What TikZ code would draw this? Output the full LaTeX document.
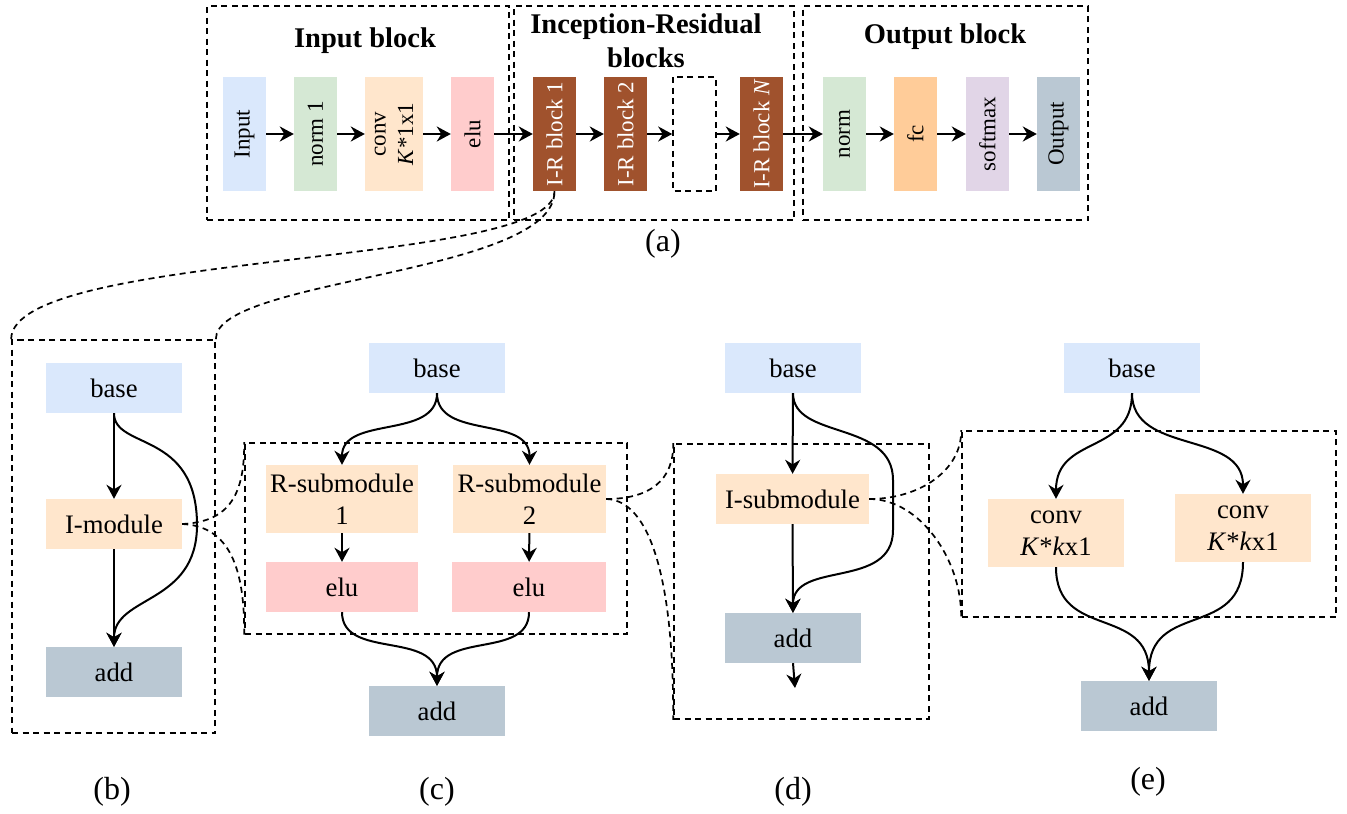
\documentclass[tikz,border=0pt]{standalone}
\usepackage{fontspec}
\setmainfont{Liberation Serif}
\usetikzlibrary{arrows.meta}

\definecolor{cblue}{HTML}{DAE8FC}
\definecolor{cgreen}{HTML}{D5E8D4}
\definecolor{corange}{HTML}{FFE6CC}
\definecolor{cpink}{HTML}{FFCCCC}
\definecolor{cbrown}{HTML}{A0522D}
\definecolor{cfc}{HTML}{FFCC99}
\definecolor{cviolet}{HTML}{E1D5E7}
\definecolor{cgray}{HTML}{BAC8D3}

\tikzset{
  box/.style={draw=none, inner sep=0pt, align=center, minimum width=136pt, minimum height=50pt,
              font=\fontsize{26.7}{32}\selectfont},
  vbox/.style={draw=none, rotate=90, inner sep=0pt, align=center, minimum width=114pt,
               minimum height=43pt, font=\fontsize{23}{27.5}\selectfont},
  grp/.style={draw, line width=1.7pt, dash pattern=on 6pt off 4.5pt, inner sep=0pt},
  flow/.style={-{Stealth[length=14pt,width=15pt,inset=4.5pt]}, line width=2pt},
  link/.style={line width=1.7pt, dash pattern=on 6pt off 4.5pt},
  title/.style={font=\bfseries\fontsize{28.5}{34.2}\selectfont, align=center},
  caption/.style={font=\fontsize{32}{38}\selectfont},
}

\begin{document}
\begin{tikzpicture}[x=1pt,y=-1pt]
\useasboundingbox (0,0) rectangle (1347,814);

% ---------- (a) overall network ----------
\node[grp, minimum width=302pt, minimum height=214pt] (gin)  at (358,113) {};
\node[grp, minimum width=280pt, minimum height=214pt] (gir)  at (654,113) {};
\node[grp, minimum width=285pt, minimum height=214pt] (gout) at (945.5,113) {};

\node[title, anchor=base] (tin)  at (365,47) {Input block};
\node[title]              (tir)  at (646,40.5) {Inception-Residual\\blocks};
\node[title, anchor=base] (tout) at (945,43) {Output block};

\node[vbox, fill=cblue]   (in)  at (244.5,134) {Input};
\node[vbox, fill=cgreen]  (n1)  at (315.5,134) {norm 1};
\node[vbox, fill=corange, minimum height=58pt] (cv) at (394,134) {conv\\\textit{K}*1x1};
\node[vbox, fill=cpink]   (el)  at (472.5,134) {elu};
\node[vbox, fill=cbrown, text=white] (ir1) at (554.5,134) {I-R block 1};
\node[vbox, fill=cbrown, text=white] (ir2) at (625.5,134) {I-R block 2};
\node[vbox, fill=white, draw, line width=1.6pt, dash pattern=on 6pt off 4.5pt] (irx) at (694.5,134) {};
\node[vbox, fill=cbrown, text=white] (irn) at (761.5,134) {I-R block \textit{N}};
\node[vbox, fill=cgreen]  (on)  at (844.5,134) {norm};
\node[vbox, fill=cfc]     (fc)  at (915.5,134) {fc};
\node[vbox, fill=cviolet] (sm)  at (987.5,134) {softmax};
\node[vbox, fill=cgray]   (out) at (1058.5,134) {Output};

\draw[flow] (in) -- (n1);
\draw[flow] (n1) -- (cv);
\draw[flow] (cv) -- (el);
\draw[flow] (el) -- (ir1);
\draw[flow] (ir1) -- (ir2);
\draw[flow] (ir2) -- (irx);
\draw[flow] (irx) -- (irn);
\draw[flow] (irn) -- (on);
\draw[flow] (on) -- (fc);
\draw[flow] (fc) -- (sm);
\draw[flow] (sm) -- (out);

\node[caption] (la) at (663,244) {(a)};

% ---------- (b) I-R block ----------
\node[grp, minimum width=203pt, minimum height=393pt] (gb) at (113.5,536.5) {};
\node[box, fill=cblue]   (bbase) at (114,388) {base};
\node[box, fill=corange] (bmod)  at (114,524) {I-module};
\node[box, fill=cgray]   (badd)  at (114,672) {add};
\draw[flow] (bbase) -- (bmod);
\draw[flow] (bmod) -- (badd);
\draw[flow] (bbase.south) .. controls (114,450) and (197,430) .. (197,525)
            .. controls (197,605) and (114,595) .. (badd.north);

\draw[link] (gb.north west) .. controls (12,250) and (555,268) .. (ir1.west);
\draw[link] (gb.north east) .. controls (215,278) and (555,275) .. (ir1.west);

% ---------- (c) I-module ----------
\node[grp, minimum width=382pt, minimum height=191pt] (gc) at (436,538.5) {};
\node[box, fill=cblue] (cbase) at (437,368) {base};
\node[box, fill=corange, minimum width=152pt, minimum height=68pt] (cr1) at (342,499) {R-submodule\\1};
\node[box, fill=corange, minimum width=153pt, minimum height=68pt] (cr2) at (529.5,499) {R-submodule\\2};
\node[box, fill=cpink, minimum width=152pt] (ce1) at (342,587) {elu};
\node[box, fill=cpink, minimum width=154pt] (ce2) at (529,587) {elu};
\node[box, fill=cgray] (cadd) at (437,711) {add};
\draw[flow] (cbase.south) .. controls (437,440) and (342,415) .. (cr1.north);
\draw[flow] (cbase.south) .. controls (437,440) and (529.5,415) .. (cr2.north);
\draw[flow] (cr1) -- (ce1);
\draw[flow] (cr2) -- (ce2);
\draw[flow] (ce1.south) .. controls (342,660) and (437,630) .. (cadd.north);
\draw[flow] (ce2.south) .. controls (529,660) and (437,630) .. (cadd.north);

\draw[link] (bmod.east) .. controls (225,522) and (245,500) .. (gc.north west);
\draw[link] (bmod.east) .. controls (225,526) and (245,560) .. (gc.south west);

% ---------- (d) R-submodule ----------
\node[grp, minimum width=255pt, minimum height=275pt] (gd) at (801.5,581.5) {};
\node[box, fill=cblue] (dbase) at (793,368) {base};
\node[box, fill=corange, minimum width=153pt] (dmod) at (792.5,499) {I-submodule};
\node[box, fill=cgray] (dadd) at (793,638) {add};
\coordinate (dout) at (795,688);
\draw[flow] (dbase) -- (dmod);
\draw[flow] (dmod) -- (dadd);
\draw[flow] (dadd.south) -- (dout);
\draw[flow] (dbase.south) .. controls (793,440) and (893,420) .. (893,480) -- (893,530)
            .. controls (893,590) and (793,560) .. (dadd.north);

\draw[link] (cr2.east) .. controls (650,499) and (674,480) .. (gd.north west);
\draw[link] (cr2.east) .. controls (650,500) and (674,580) .. (gd.south west);

% ---------- (e) I-submodule ----------
\node[grp, minimum width=374pt, minimum height=186pt] (ge) at (1149,524) {};
\node[box, fill=cblue] (ebase) at (1132,368) {base};
\node[box, fill=corange, minimum height=68pt] (ec1) at (1056,533) {conv\\\textit{K}*\textit{k}x1};
\node[box, fill=corange, minimum height=68pt] (ec2) at (1243,528) {conv\\\textit{K}*\textit{k}x1};
\node[box, fill=cgray] (eadd) at (1149,706) {add};
\draw[flow] (ebase.south) .. controls (1132,455) and (1056,435) .. (ec1.north);
\draw[flow] (ebase.south) .. controls (1132,455) and (1243,430) .. (ec2.north);
\draw[flow] (ec1.south) .. controls (1056,640) and (1149,605) .. (eadd.north);
\draw[flow] (ec2.south) .. controls (1243,640) and (1149,600) .. (eadd.north);

\draw[link] (dmod.east) .. controls (920,499) and (962,470) .. (ge.north west);
\draw[link] (dmod.east) .. controls (920,499) and (962,560) .. (ge.south west);

% ---------- panel captions ----------
\node[caption] (lb) at (112,792) {(b)};
\node[caption] (lc) at (437,792) {(c)};
\node[caption] (ld) at (793,792) {(d)};
\node[caption] (le) at (1148,782) {(e)};
\end{tikzpicture}
\end{document}
